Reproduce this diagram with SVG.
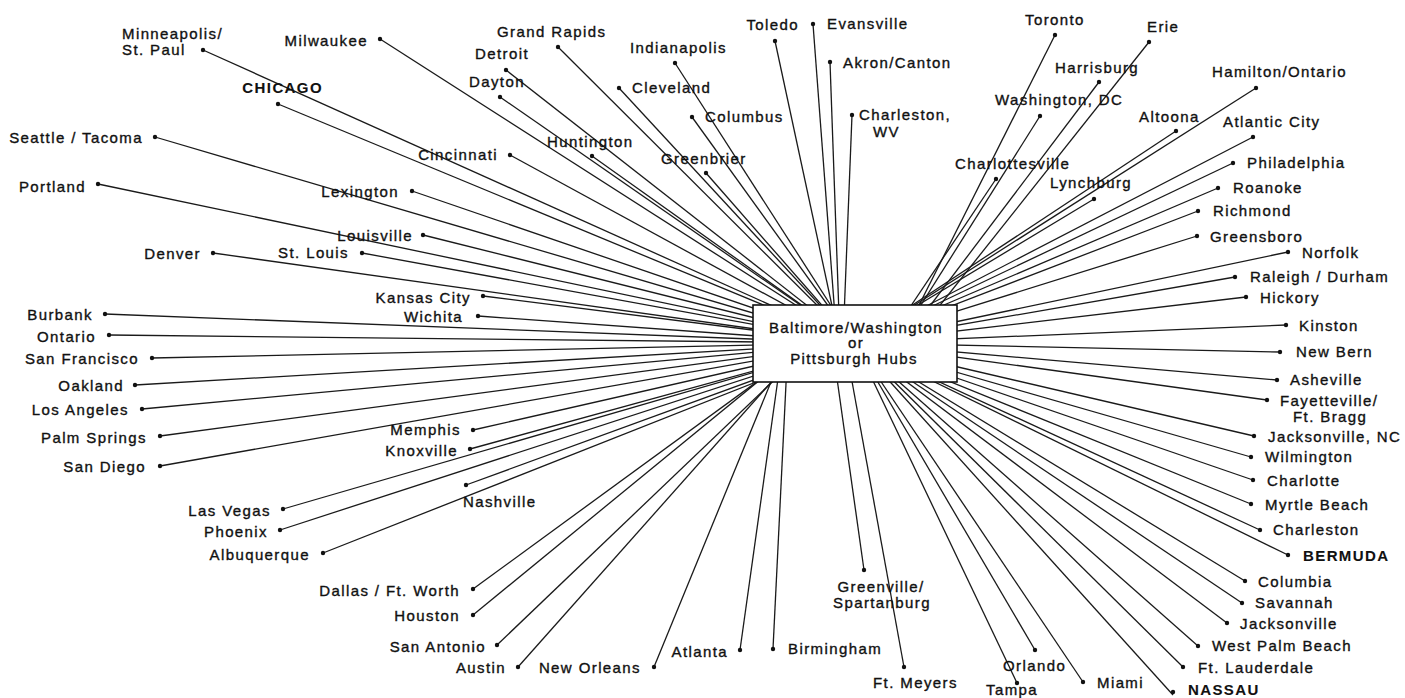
<svg xmlns="http://www.w3.org/2000/svg" width="1405" height="698" viewBox="0 0 1405 698">
<style>
text{font-family:"Liberation Sans",Arial,sans-serif;font-size:15px;letter-spacing:1.4px;fill:#111;stroke:#111;stroke-width:0.35}
.e{text-anchor:end}
.m{text-anchor:middle}
.b{font-weight:bold;stroke-width:0.1}
.ln line{stroke:#1a1a1a;stroke-width:1.3}
circle{fill:#111}
</style>
<rect width="1405" height="698" fill="#fff"/>
<g id="connectors" class="ln">
<line x1="203" y1="50" x2="855" y2="343"/>
<line x1="380" y1="39" x2="855" y2="343"/>
<line x1="278" y1="104" x2="855" y2="343"/>
<line x1="155" y1="137" x2="855" y2="343"/>
<line x1="98" y1="184" x2="855" y2="343"/>
<line x1="510" y1="155" x2="855" y2="343"/>
<line x1="412" y1="191" x2="855" y2="343"/>
<line x1="423" y1="235" x2="855" y2="343"/>
<line x1="213" y1="253" x2="855" y2="343"/>
<line x1="362" y1="253" x2="855" y2="343"/>
<line x1="483" y1="296" x2="855" y2="343"/>
<line x1="478" y1="316" x2="855" y2="343"/>
<line x1="105" y1="314" x2="855" y2="343"/>
<line x1="109" y1="335" x2="855" y2="343"/>
<line x1="152" y1="358" x2="855" y2="343"/>
<line x1="135" y1="385" x2="855" y2="343"/>
<line x1="142" y1="409" x2="855" y2="343"/>
<line x1="160" y1="436" x2="855" y2="343"/>
<line x1="160" y1="466" x2="855" y2="343"/>
<line x1="473" y1="430" x2="855" y2="343"/>
<line x1="470" y1="449" x2="855" y2="343"/>
<line x1="466" y1="485" x2="855" y2="343"/>
<line x1="283" y1="509" x2="855" y2="343"/>
<line x1="280" y1="530" x2="855" y2="343"/>
<line x1="323" y1="553" x2="855" y2="343"/>
<line x1="473" y1="589" x2="810" y2="343"/>
<line x1="473" y1="615" x2="805" y2="343"/>
<line x1="497" y1="645" x2="813" y2="343"/>
<line x1="518" y1="667" x2="806" y2="343"/>
<line x1="654" y1="667" x2="787" y2="343"/>
<line x1="740" y1="650" x2="783" y2="343"/>
<line x1="773" y1="649" x2="788" y2="343"/>
<line x1="864" y1="570" x2="832" y2="343"/>
<line x1="904" y1="667" x2="845" y2="343"/>
<line x1="1017" y1="683" x2="855" y2="343"/>
<line x1="1035" y1="650" x2="855" y2="343"/>
<line x1="1083" y1="682" x2="855" y2="343"/>
<line x1="1173" y1="695" x2="855" y2="343"/>
<line x1="1183" y1="667" x2="855" y2="343"/>
<line x1="1198" y1="646" x2="855" y2="343"/>
<line x1="1227" y1="623" x2="855" y2="343"/>
<line x1="1242" y1="603" x2="855" y2="343"/>
<line x1="1245" y1="581" x2="855" y2="343"/>
<line x1="1288" y1="555" x2="855" y2="343"/>
<line x1="1260" y1="530" x2="855" y2="343"/>
<line x1="1251" y1="504" x2="855" y2="343"/>
<line x1="1253" y1="480" x2="855" y2="343"/>
<line x1="1251" y1="457" x2="855" y2="343"/>
<line x1="1254" y1="436" x2="855" y2="343"/>
<line x1="1267" y1="400" x2="855" y2="343"/>
<line x1="1277" y1="380" x2="855" y2="343"/>
<line x1="1280" y1="352" x2="855" y2="343"/>
<line x1="1286" y1="325" x2="855" y2="343"/>
<line x1="1246" y1="297" x2="855" y2="343"/>
<line x1="1235" y1="277" x2="855" y2="343"/>
<line x1="1288" y1="252" x2="855" y2="343"/>
<line x1="1197" y1="236" x2="855" y2="343"/>
<line x1="1198" y1="211" x2="855" y2="343"/>
<line x1="1218" y1="188" x2="855" y2="343"/>
<line x1="1233" y1="163" x2="855" y2="343"/>
<line x1="1253" y1="137" x2="855" y2="343"/>
<line x1="1256" y1="88" x2="855" y2="343"/>
<line x1="1176" y1="131" x2="855" y2="343"/>
<line x1="1149" y1="42" x2="910" y2="343"/>
<line x1="1055" y1="35" x2="900" y2="343"/>
<line x1="1099" y1="82" x2="902" y2="343"/>
<line x1="1040" y1="116" x2="897" y2="343"/>
<line x1="996" y1="179" x2="886" y2="343"/>
<line x1="1094" y1="199" x2="855" y2="343"/>
<line x1="852" y1="115" x2="843" y2="343"/>
<line x1="830" y1="62" x2="840" y2="343"/>
<line x1="813" y1="24" x2="837" y2="343"/>
<line x1="775" y1="41" x2="840" y2="343"/>
<line x1="675" y1="63" x2="855" y2="343"/>
<line x1="619" y1="88" x2="855" y2="343"/>
<line x1="692" y1="117" x2="855" y2="343"/>
<line x1="706" y1="173" x2="855" y2="343"/>
<line x1="592" y1="156" x2="855" y2="343"/>
<line x1="558" y1="47" x2="855" y2="343"/>
<line x1="506" y1="70" x2="855" y2="343"/>
<line x1="500" y1="97" x2="855" y2="343"/>
</g>
<g id="hub">
<rect x="753" y="305" width="204" height="77" fill="#fff" stroke="#111" stroke-width="1.6"/>
<text class="m" x="856" y="333">Baltimore/Washington</text>
<text class="m" x="856" y="348">or</text>
<text class="m" x="854" y="364">Pittsburgh Hubs</text>
</g>
<g id="n-minneapolis"><circle cx="203" cy="50" r="2.2"/><text x="122" y="39">Minneapolis/</text><text x="122" y="55">St. Paul</text></g>
<g id="n-milwaukee"><circle cx="380" cy="39" r="2.2"/><text class="e" x="368" y="46">Milwaukee</text></g>
<g id="n-chicago"><circle cx="278" cy="104" r="2.2"/><text class="e b" x="323" y="93">CHICAGO</text></g>
<g id="n-seattle"><circle cx="155" cy="137" r="2.2"/><text class="e" x="143" y="143">Seattle / Tacoma</text></g>
<g id="n-portland"><circle cx="98" cy="184" r="2.2"/><text class="e" x="86" y="192">Portland</text></g>
<g id="n-cincinnati"><circle cx="510" cy="155" r="2.2"/><text class="e" x="498" y="160">Cincinnati</text></g>
<g id="n-lexington"><circle cx="412" cy="191" r="2.2"/><text class="e" x="399" y="197">Lexington</text></g>
<g id="n-louisville"><circle cx="423" cy="235" r="2.2"/><text class="e" x="413" y="241">Louisville</text></g>
<g id="n-denver"><circle cx="213" cy="253" r="2.2"/><text class="e" x="201" y="259">Denver</text></g>
<g id="n-stlouis"><circle cx="362" cy="253" r="2.2"/><text class="e" x="349" y="258">St. Louis</text></g>
<g id="n-kansascity"><circle cx="483" cy="296" r="2.2"/><text class="e" x="471" y="303">Kansas City</text></g>
<g id="n-wichita"><circle cx="478" cy="316" r="2.2"/><text class="e" x="463" y="322">Wichita</text></g>
<g id="n-burbank"><circle cx="105" cy="314" r="2.2"/><text class="e" x="93" y="320">Burbank</text></g>
<g id="n-ontario"><circle cx="109" cy="335" r="2.2"/><text class="e" x="96" y="342">Ontario</text></g>
<g id="n-sanfrancisco"><circle cx="152" cy="358" r="2.2"/><text class="e" x="139" y="364">San Francisco</text></g>
<g id="n-oakland"><circle cx="135" cy="385" r="2.2"/><text class="e" x="124" y="391">Oakland</text></g>
<g id="n-losangeles"><circle cx="142" cy="409" r="2.2"/><text class="e" x="129" y="415">Los Angeles</text></g>
<g id="n-palmsprings"><circle cx="160" cy="436" r="2.2"/><text class="e" x="147" y="443">Palm Springs</text></g>
<g id="n-sandiego"><circle cx="160" cy="466" r="2.2"/><text class="e" x="146" y="472">San Diego</text></g>
<g id="n-memphis"><circle cx="473" cy="430" r="2.2"/><text class="e" x="461" y="435">Memphis</text></g>
<g id="n-knoxville"><circle cx="470" cy="449" r="2.2"/><text class="e" x="458" y="456">Knoxville</text></g>
<g id="n-nashville"><circle cx="466" cy="485" r="2.2"/><text x="463" y="507">Nashville</text></g>
<g id="n-lasvegas"><circle cx="283" cy="509" r="2.2"/><text class="e" x="271" y="516">Las Vegas</text></g>
<g id="n-phoenix"><circle cx="280" cy="530" r="2.2"/><text class="e" x="268" y="537">Phoenix</text></g>
<g id="n-albuquerque"><circle cx="323" cy="553" r="2.2"/><text class="e" x="310" y="560">Albuquerque</text></g>
<g id="n-dallas"><circle cx="473" cy="589" r="2.2"/><text class="e" x="460" y="596">Dallas / Ft. Worth</text></g>
<g id="n-houston"><circle cx="473" cy="615" r="2.2"/><text class="e" x="460" y="621">Houston</text></g>
<g id="n-sanantonio"><circle cx="497" cy="645" r="2.2"/><text class="e" x="486" y="652">San Antonio</text></g>
<g id="n-austin"><circle cx="518" cy="667" r="2.2"/><text class="e" x="506" y="673">Austin</text></g>
<g id="n-neworleans"><circle cx="654" cy="667" r="2.2"/><text class="e" x="641" y="673">New Orleans</text></g>
<g id="n-atlanta"><circle cx="740" cy="650" r="2.2"/><text class="e" x="728" y="657">Atlanta</text></g>
<g id="n-birmingham"><circle cx="773" cy="649" r="2.2"/><text x="788" y="654">Birmingham</text></g>
<g id="n-greenville"><circle cx="864" cy="570" r="2.2"/><text class="m" x="881" y="592">Greenville/</text><text class="m" x="882" y="608">Spartanburg</text></g>
<g id="n-ftmeyers"><circle cx="904" cy="667" r="2.2"/><text x="873" y="688">Ft. Meyers</text></g>
<g id="n-tampa"><circle cx="1017" cy="683" r="2.2"/><text x="986" y="695">Tampa</text></g>
<g id="n-orlando"><circle cx="1035" cy="650" r="2.2"/><text x="1003" y="671">Orlando</text></g>
<g id="n-miami"><circle cx="1083" cy="682" r="2.2"/><text x="1097" y="688">Miami</text></g>
<g id="n-nassau"><circle cx="1173" cy="692" r="2.2"/><text class="b" x="1188" y="695">NASSAU</text></g>
<g id="n-ftlauderdale"><circle cx="1183" cy="667" r="2.2"/><text x="1198" y="673">Ft. Lauderdale</text></g>
<g id="n-westpalmbeach"><circle cx="1198" cy="646" r="2.2"/><text x="1212" y="651">West Palm Beach</text></g>
<g id="n-jacksonville"><circle cx="1227" cy="623" r="2.2"/><text x="1240" y="629">Jacksonville</text></g>
<g id="n-savannah"><circle cx="1242" cy="603" r="2.2"/><text x="1255" y="608">Savannah</text></g>
<g id="n-columbia"><circle cx="1245" cy="581" r="2.2"/><text x="1258" y="587">Columbia</text></g>
<g id="n-bermuda"><circle cx="1288" cy="555" r="2.2"/><text class="b" x="1303" y="561">BERMUDA</text></g>
<g id="n-charleston"><circle cx="1260" cy="530" r="2.2"/><text x="1273" y="535">Charleston</text></g>
<g id="n-myrtlebeach"><circle cx="1251" cy="504" r="2.2"/><text x="1265" y="510">Myrtle Beach</text></g>
<g id="n-charlotte"><circle cx="1253" cy="480" r="2.2"/><text x="1267" y="486">Charlotte</text></g>
<g id="n-wilmington"><circle cx="1251" cy="457" r="2.2"/><text x="1265" y="462">Wilmington</text></g>
<g id="n-jacksonvillenc"><circle cx="1254" cy="436" r="2.2"/><text x="1268" y="442">Jacksonville, NC</text></g>
<g id="n-fayetteville"><circle cx="1267" cy="400" r="2.2"/><text x="1280" y="406">Fayetteville/</text><text x="1293" y="422">Ft. Bragg</text></g>
<g id="n-asheville"><circle cx="1277" cy="380" r="2.2"/><text x="1290" y="385">Asheville</text></g>
<g id="n-newbern"><circle cx="1280" cy="352" r="2.2"/><text x="1296" y="357">New Bern</text></g>
<g id="n-kinston"><circle cx="1286" cy="325" r="2.2"/><text x="1299" y="331">Kinston</text></g>
<g id="n-hickory"><circle cx="1246" cy="297" r="2.2"/><text x="1260" y="303">Hickory</text></g>
<g id="n-raleigh"><circle cx="1235" cy="277" r="2.2"/><text x="1250" y="282">Raleigh / Durham</text></g>
<g id="n-norfolk"><circle cx="1288" cy="252" r="2.2"/><text x="1302" y="258">Norfolk</text></g>
<g id="n-greensboro"><circle cx="1197" cy="236" r="2.2"/><text x="1210" y="242">Greensboro</text></g>
<g id="n-richmond"><circle cx="1198" cy="211" r="2.2"/><text x="1213" y="216">Richmond</text></g>
<g id="n-roanoke"><circle cx="1218" cy="188" r="2.2"/><text x="1233" y="193">Roanoke</text></g>
<g id="n-philadelphia"><circle cx="1233" cy="163" r="2.2"/><text x="1247" y="168">Philadelphia</text></g>
<g id="n-atlanticcity"><circle cx="1253" cy="137" r="2.2"/><text x="1223" y="127">Atlantic City</text></g>
<g id="n-hamilton"><circle cx="1256" cy="88" r="2.2"/><text x="1212" y="77">Hamilton/Ontario</text></g>
<g id="n-altoona"><circle cx="1176" cy="131" r="2.2"/><text x="1139" y="122">Altoona</text></g>
<g id="n-erie"><circle cx="1149" cy="42" r="2.2"/><text x="1147" y="32">Erie</text></g>
<g id="n-toronto"><circle cx="1055" cy="35" r="2.2"/><text x="1025" y="25">Toronto</text></g>
<g id="n-harrisburg"><circle cx="1099" cy="82" r="2.2"/><text x="1055" y="73">Harrisburg</text></g>
<g id="n-washingtondc"><circle cx="1040" cy="116" r="2.2"/><text x="995" y="105">Washington, DC</text></g>
<g id="n-charlottesville"><circle cx="996" cy="179" r="2.2"/><text x="955" y="169">Charlottesville</text></g>
<g id="n-lynchburg"><circle cx="1094" cy="199" r="2.2"/><text x="1050" y="188">Lynchburg</text></g>
<g id="n-charlestonwv"><circle cx="852" cy="115" r="2.2"/><text x="859" y="120">Charleston,</text><text x="873" y="137">WV</text></g>
<g id="n-akron"><circle cx="830" cy="62" r="2.2"/><text x="843" y="68">Akron/Canton</text></g>
<g id="n-evansville"><circle cx="813" cy="24" r="2.2"/><text x="827" y="29">Evansville</text></g>
<g id="n-toledo"><circle cx="775" cy="41" r="2.2"/><text class="e" x="799" y="30">Toledo</text></g>
<g id="n-indianapolis"><circle cx="675" cy="63" r="2.2"/><text x="630" y="53">Indianapolis</text></g>
<g id="n-cleveland"><circle cx="619" cy="88" r="2.2"/><text x="632" y="93">Cleveland</text></g>
<g id="n-columbus"><circle cx="692" cy="117" r="2.2"/><text x="705" y="122">Columbus</text></g>
<g id="n-greenbrier"><circle cx="706" cy="173" r="2.2"/><text x="661" y="164">Greenbrier</text></g>
<g id="n-huntington"><circle cx="592" cy="156" r="2.2"/><text x="547" y="147">Huntington</text></g>
<g id="n-grandrapids"><circle cx="558" cy="47" r="2.2"/><text x="497" y="37">Grand Rapids</text></g>
<g id="n-detroit"><circle cx="506" cy="70" r="2.2"/><text x="475" y="59">Detroit</text></g>
<g id="n-dayton"><circle cx="500" cy="97" r="2.2"/><text x="469" y="87">Dayton</text></g>
</svg>
